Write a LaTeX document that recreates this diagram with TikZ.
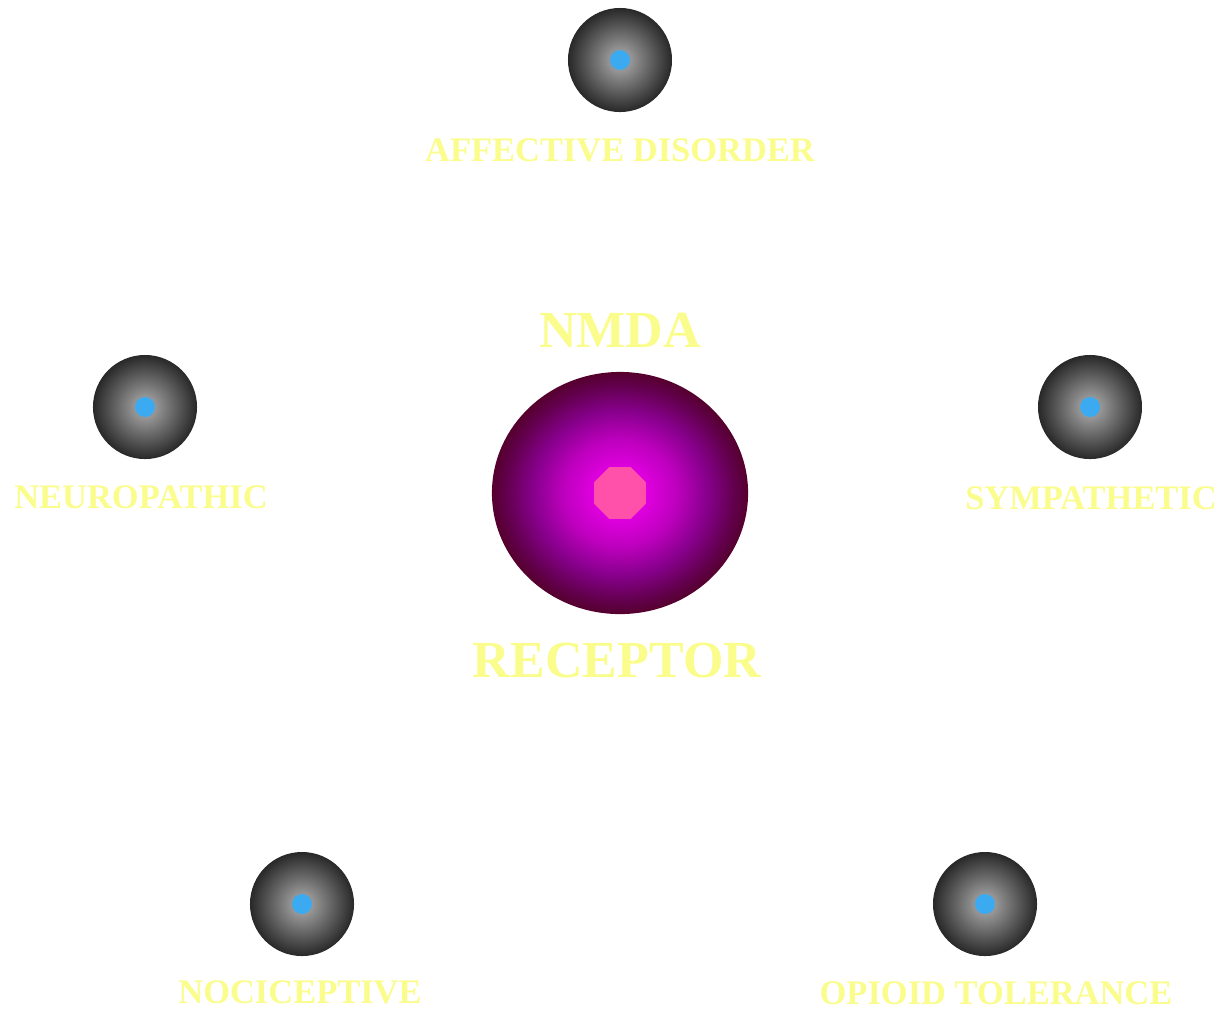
\documentclass[tikz,border=0pt]{standalone}
\usepackage{fontspec}
\setmainfont{Liberation Serif}
\usetikzlibrary{positioning,shapes}

\definecolor{pale}{RGB}{250,252,140}
\definecolor{dotblue}{RGB}{60,170,240}
\definecolor{hexpink}{RGB}{255,80,170}
\definecolor{nmdaA}{RGB}{225,0,225}
\definecolor{nmdaB}{RGB}{190,0,190}
\definecolor{nmdaC}{RGB}{135,0,140}
\definecolor{nmdaD}{RGB}{100,0,80}
\definecolor{nmdaE}{RGB}{85,0,45}
\definecolor{greyA}{RGB}{150,150,150}
\definecolor{greyB}{RGB}{95,95,95}
\definecolor{greyC}{RGB}{40,40,40}
% edge of the node sits at 25bp
\pgfdeclareradialshading{nmdaball}{\pgfpoint{0bp}{0bp}}{color(0bp)=(nmdaA); color(5bp)=(nmdaA); color(11bp)=(nmdaB); color(17bp)=(nmdaC); color(22bp)=(nmdaD); color(25bp)=(nmdaE); color(50bp)=(nmdaE)}
\pgfdeclareradialshading{greyball}{\pgfpoint{0bp}{0bp}}{color(0bp)=(greyA); color(5bp)=(greyA); color(15bp)=(greyB); color(25bp)=(greyC); color(50bp)=(greyC)}

\begin{document}
\begin{tikzpicture}[x=0.01cm, y=-0.01cm,
  ball/.style={circle, minimum size=1.04cm, inner sep=0pt, shading=greyball},
  dot/.style={circle, fill=dotblue, minimum size=0.2cm, inner sep=0pt},
  lbl/.style={text=pale, font=\fontsize{9.8}{11}\selectfont\bfseries, inner sep=0pt},
  biglbl/.style={text=pale, font=\fontsize{14.8}{17}\selectfont\bfseries, inner sep=0pt}]
\useasboundingbox (0,0) rectangle (1222,1011);

% centre
\node[ellipse, minimum width=2.56cm, minimum height=2.42cm, inner sep=0pt, shading=nmdaball] (nmda) at (620,493) {};
\node[regular polygon, regular polygon sides=8, minimum size=0.56cm, inner sep=0pt, fill=hexpink] (core) at (nmda.center) {};
\node[biglbl] (top) at (620,330) {NMDA};
\node[biglbl] (bot) at (617,660) {RECEPTOR};

% outer balls
\node[ball] (aff) at (620,60) {};
\node[ball] (neu) at (145,407) {};
\node[ball] (sym) at (1090,407) {};
\node[ball] (noc) at (302,904) {};
\node[ball] (opi) at (985,904) {};
\foreach \b in {aff,neu,sym,noc,opi}
  \node[dot] at (\b.center) {};

\node[lbl] (afftext) at (620,150) {AFFECTIVE DISORDER};
\node[lbl] (neutext) at (141,497) {NEUROPATHIC};
\node[lbl] (symtext) at (1091,498) {SYMPATHETIC};
\node[lbl] (noctext) at (300,992) {NOCICEPTIVE};
\node[lbl] (opitext) at (996,993) {OPIOID TOLERANCE};
\end{tikzpicture}
\end{document}
